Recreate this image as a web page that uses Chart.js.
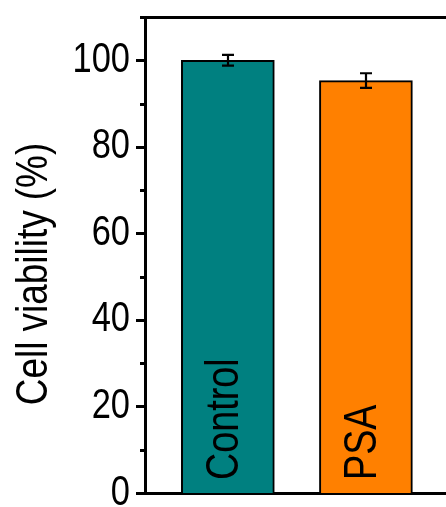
<!DOCTYPE html>
<html>
<head>
<meta charset="utf-8">
<script src="https://cdn.jsdelivr.net/npm/chart.js@4/dist/chart.umd.min.js"></script>
<style>
  html, body { margin: 0; padding: 0; background: #fff; }
  #wrap { width: 446px; height: 507px; position: relative; overflow: hidden; }
</style>
</head>
<body>
<div id="wrap"><canvas id="chart"></canvas></div>
<script>
// Cell viability per treatment group (mean and error)
const categories = ['Control', 'PSA'];
const viability = [100, 95.3];
const errors = [1.25, 1.7];
const barColors = ['#008080', '#FF8000'];
const yTickLabels = [0, 20, 40, 60, 80, 100];
const yTitle = 'Cell viability (%)';

const FONT = '"Liberation Sans", Arial, Helvetica, sans-serif';
const NARROW = 0.82;   // condensed lettering, like a narrow sans face

// Draws condensed text; rotated text reads bottom-to-top
function narrowText(ctx, text, x, y, size, rotate, align, baseline) {
  ctx.save();
  ctx.translate(x, y);
  if (rotate) ctx.rotate(-Math.PI / 2);
  ctx.scale(NARROW, 1);
  ctx.font = size + 'px ' + FONT;
  ctx.textAlign = align;
  ctx.textBaseline = baseline;
  ctx.fillStyle = '#000';
  ctx.fillText(text, 0, 0);
  ctx.restore();
}

const decorations = {
  id: 'decorations',
  afterDatasetsDraw(chart) {
    const ctx = chart.ctx;
    const xs = chart.scales.x, ys = chart.scales.y;
    ctx.save();
    ctx.strokeStyle = '#000';
    ctx.lineWidth = 2.2;
    // error bars with caps
    viability.forEach((v, i) => {
      const x = Math.round(xs.getPixelForValue(i + 1));
      const yHi = ys.getPixelForValue(v + errors[i]);
      const yLo = ys.getPixelForValue(v - errors[i]);
      ctx.beginPath();
      ctx.moveTo(x, yHi); ctx.lineTo(x, yLo);
      ctx.moveTo(x - 6, yHi); ctx.lineTo(x + 6, yHi);
      ctx.moveTo(x - 6, yLo); ctx.lineTo(x + 6, yLo);
      ctx.stroke();
    });
    ctx.restore();
    // group names written up the inside of each bar
    categories.forEach((name, i) => {
      const x = xs.getPixelForValue(i + 1) + 10;
      narrowText(ctx, name, x, ys.bottom - 13, 46, true, 'left', 'alphabetic');
    });
  },
  afterDraw(chart) {
    const ctx = chart.ctx;
    const ys = chart.scales.y;
    const area = chart.chartArea;
    ctx.save();
    ctx.strokeStyle = '#000';
    ctx.lineWidth = 3;
    ctx.lineCap = 'butt';
    // outward ticks: long at labelled values, short in between
    ys.ticks.forEach(t => {
      const y = Math.round(ys.getPixelForValue(t.value)) + 0.5;
      const len = t.value % 20 === 0 ? 9 : 5;
      ctx.beginPath();
      ctx.moveTo(area.left - len, y);
      ctx.lineTo(area.left, y);
      ctx.stroke();
    });
    // top frame line
    ctx.beginPath();
    ctx.moveTo(area.left - 1.5, area.top + 0.5);
    ctx.lineTo(chart.width, area.top + 0.5);
    ctx.stroke();
    ctx.restore();
    // tick labels
    yTickLabels.forEach(v => {
      const y = ys.getPixelForValue(v);
      narrowText(ctx, String(v), 130, y, 42, false, 'right', 'middle');
    });
    // axis title
    narrowText(ctx, yTitle, 47, 274, 45, true, 'center', 'alphabetic');
  }
};

new Chart(document.getElementById('chart'), {
  type: 'bar',
  data: {
    datasets: [{
      data: categories.map((c, i) => ({ x: i + 1, y: viability[i] })),
      backgroundColor: barColors,
      borderColor: '#000',
      borderWidth: 2,
      borderSkipped: 'start',
      barThickness: 93
    }]
  },
  options: {
    responsive: true,
    maintainAspectRatio: false,
    animation: false,
    devicePixelRatio: 1,
    layout: { padding: { top: 17, left: 0, right: 0, bottom: 0 } },
    plugins: { legend: { display: false }, tooltip: { enabled: false } },
    scales: {
      x: {
        type: 'linear',
        offset: false,
        min: 0.4,
        max: 2.58,
        grid: { display: false },
        ticks: { display: false },
        border: { display: true, width: 3, color: '#000' },
        afterFit: s => { s.height = 14; }
      },
      y: {
        min: 0,
        max: 110,
        ticks: { display: false, stepSize: 10 },
        grid: { display: false },
        border: { display: true, width: 3, color: '#000' },
        afterFit: s => { s.width = 145; }
      }
    }
  },
  plugins: [decorations]
});
</script>
</body>
</html>
